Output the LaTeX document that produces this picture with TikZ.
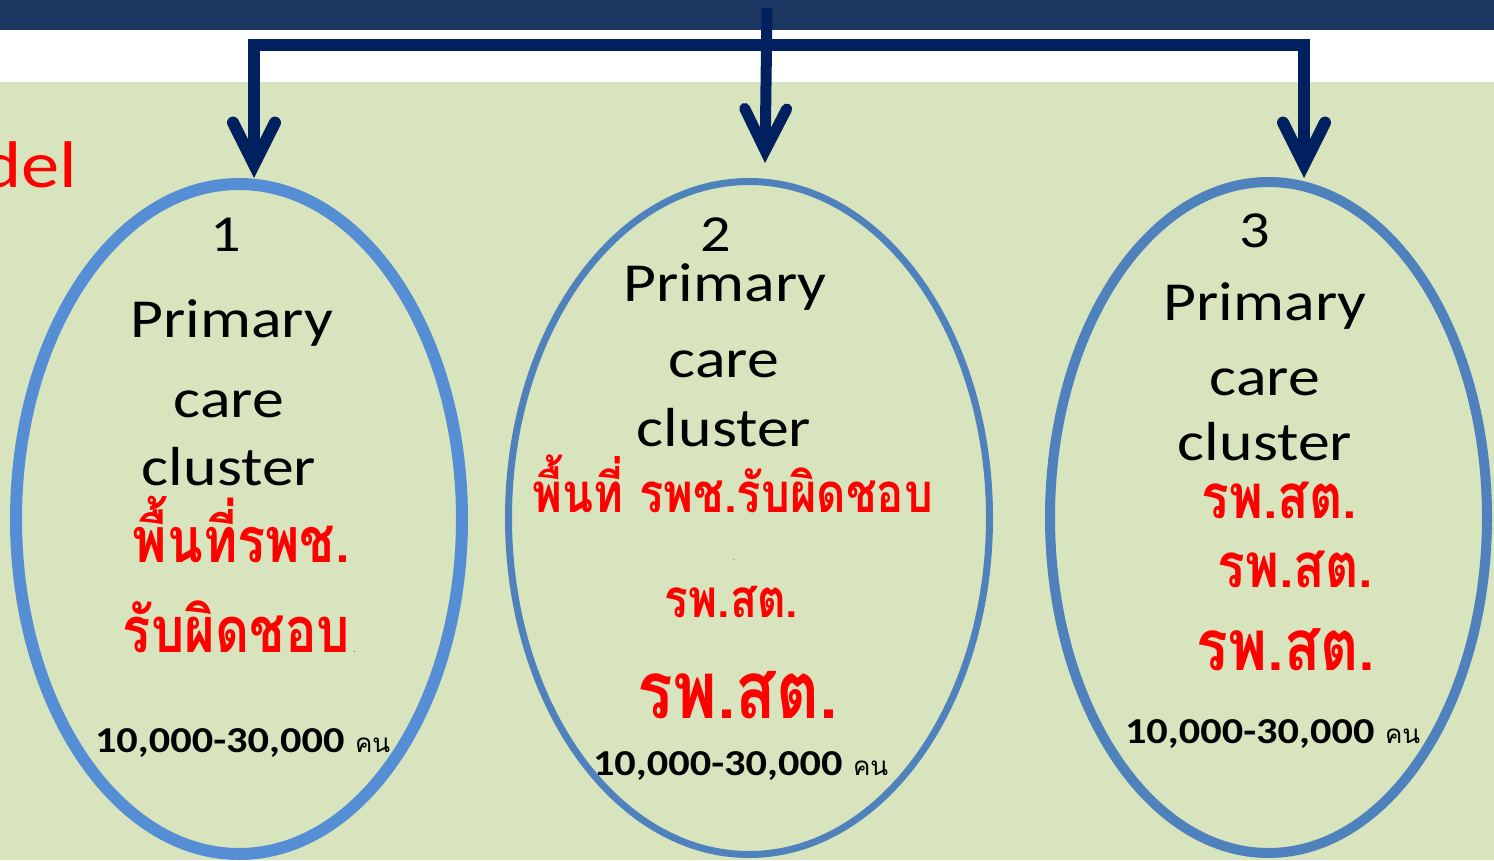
\documentclass[tikz,border=0pt]{standalone}
\usepackage{fontspec}
\setmainfont{Carlito}
\newfontfamily\thaifont[Script=Thai]{Loma}
\usetikzlibrary{shapes.geometric,arrows.meta}
\definecolor{topbar}{HTML}{1B3761}
\definecolor{arrowblue}{HTML}{002060}
\definecolor{bggreen}{HTML}{D7E4BD}
\definecolor{ringA}{HTML}{558ED5}
\definecolor{ringB}{HTML}{4F81BD}
\definecolor{thaired}{HTML}{FF0000}
\newcommand{\hs}[1]{\scalebox{1.16}[1]{#1}}
\newcommand{\thw}[2]{\resizebox{#1}{!}{\scalebox{1}[1.2]{\thaifont\bfseries #2}}}
\begin{document}
\begin{tikzpicture}[x=1pt,y=-1pt,
  every node/.style={inner sep=0pt,outer sep=0pt},
  ring/.style={draw,ellipse,inner sep=0pt,outer sep=0pt},
  entext/.style={anchor=base,font=\fontsize{55}{60}\selectfont},
  numtext/.style={anchor=base,font=\fontsize{52}{60}\selectfont},
  poptext/.style={anchor=base west,font=\fontsize{36.5}{40}\selectfont\bfseries},
  kontext/.style={anchor=base west,font=\thaifont\fontsize{26}{30}\selectfont},
  redtext/.style={anchor=base,text=thaired,text depth=0pt},
  link/.style={draw=arrowblue,line width=12pt,
    -{Straight Barb[length=42pt,width=42pt,line cap=round,line join=miter]}}
]
\useasboundingbox (0,0) rectangle (1494,860);
\fill[white] (0,0) rectangle (1494,860);
\fill[bggreen] (0,82) rectangle (1494,860);
\fill[topbar] (0,0) rectangle (1494,30);

% title fragment
\node[anchor=base east,text=thaired,font=\fontsize{66}{70}\selectfont] (title) at (77,187) {\hs{del}};

% clusters
\node[ring,draw=ringA,line width=12pt,minimum width=446pt,minimum height=670pt] (e1) at (239,519) {};
\node[ring,draw=ringB,line width=7pt,minimum width=481pt,minimum height=673pt] (e2) at (749,518) {};
\node[ring,draw=ringB,line width=10pt,minimum width=437pt,minimum height=671pt] (e3) at (1268.5,517.5) {};

% connectors
\coordinate (src) at (767,8);
\coordinate (jn) at (766,45);
\coordinate (t1) at (254,178);
\coordinate (t2) at (765,163);
\coordinate (t3) at (1304,178);
\draw[link,line width=11pt] (src) -- (t2);
\draw[link] (jn) -| (t1);
\draw[link] (jn) -| (t3);

% cluster 1 text
\node[numtext] (n1) at (226,251) {\hs{1}};
\node[entext] (p1) at (232,337) {\hs{Primary}};
\node[entext] (c1) at (229,417) {\hs{care}};
\node[entext] (l1) at (229,485) {\hs{cluster}};
\node[redtext] (r1a) at (241.5,562) {\thw{217pt}{พื้นที่รพช.}};
\node[redtext] (r1b) at (236.5,652) {\thw{227pt}{รับผิดชอบ}};
\node[anchor=base west,text=thaired,font=\thaifont\fontsize{10}{10}\selectfont] (r1c) at (353,652) {.};
\node[poptext] (q1) at (95,752) {\hs{10,000-30,000}};
\node[kontext] (k1) at (355,752) {คน};

% cluster 2 text
\node[numtext] (n2) at (716,251) {\hs{2}};
\node[entext] (p2) at (725,301) {\hs{Primary}};
\node[entext] (c2) at (724,377) {\hs{care}};
\node[entext] (l2) at (724,446) {\hs{cluster}};
\node[redtext] (r2a) at (733,512) {\thw{400pt}{พื้นที่ รพช.รับผิดชอบ}};
\node[anchor=base,text=thaired,font=\thaifont\fontsize{8}{8}\selectfont] (r2b) at (734,560) {.};
\node[redtext] (r2c) at (731.5,617) {\thw{133pt}{รพ.สต.}};
\node[redtext] (r2d) at (738,718) {\thw{200pt}{รพ.สต.}};
\node[poptext] (q2) at (593,775) {\hs{10,000-30,000}};
\node[kontext] (k2) at (853,775) {คน};

% cluster 3 text
\node[numtext] (n3) at (1255,247) {\hs{3}};
\node[entext] (p3) at (1265,320) {\hs{Primary}};
\node[entext] (c3) at (1265,395) {\hs{care}};
\node[entext] (l3) at (1265,460) {\hs{cluster}};
\node[redtext] (r3a) at (1279.5,518) {\thw{155pt}{รพ.สต.}};
\node[redtext] (r3b) at (1295.5,587) {\thw{155pt}{รพ.สต.}};
\node[redtext] (r3c) at (1286,670) {\thw{178pt}{รพ.สต.}};
\node[poptext] (q3) at (1125,743) {\hs{10,000-30,000}};
\node[kontext] (k3) at (1385,743) {คน};
\end{tikzpicture}
\end{document}
